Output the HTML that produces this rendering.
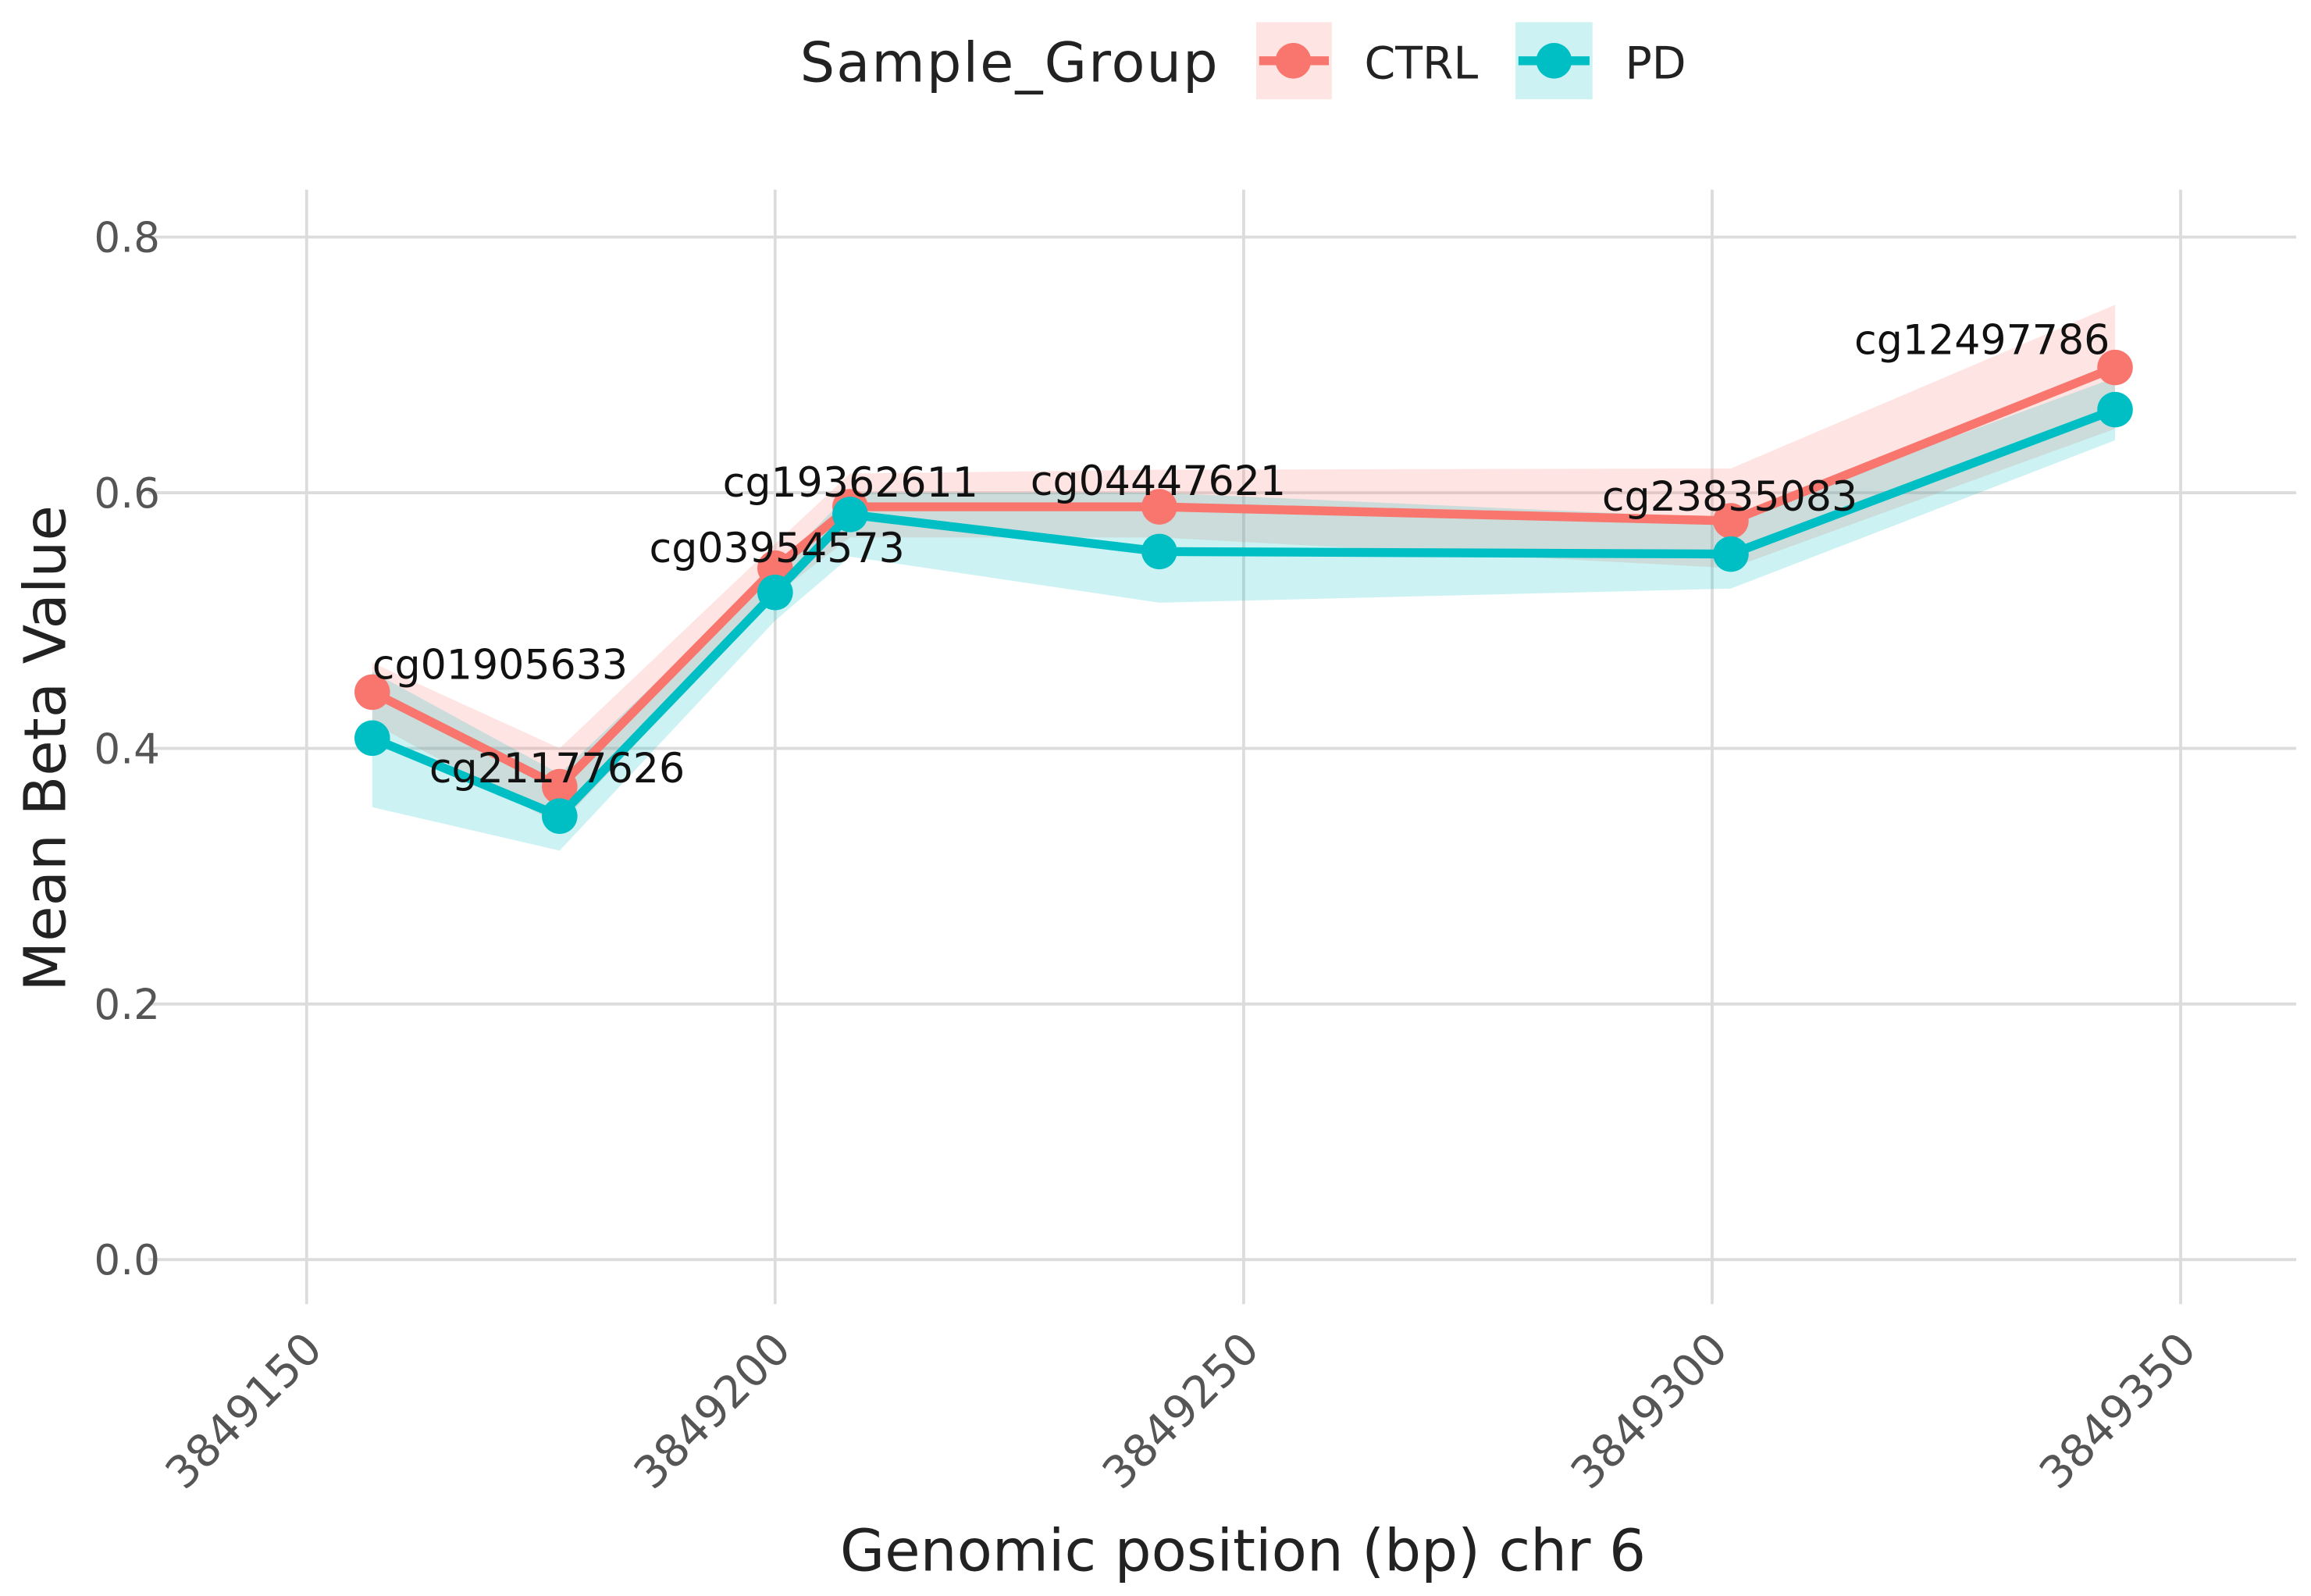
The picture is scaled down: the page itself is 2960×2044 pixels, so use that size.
<!DOCTYPE html>
<html><head><meta charset="utf-8"><style>
html,body{margin:0;padding:0;background:#fff}
svg{display:block}
text{font-family:"DejaVu Sans","Liberation Sans",sans-serif}
</style></head><body>
<svg id="chart" width="2960" height="2044" viewBox="0 0 1560 1077" preserveAspectRatio="none" xmlns="http://www.w3.org/2000/svg">
<g id="grid"></g>
<g id="ribbons"></g>
<g id="lines"></g>
<g id="labels"></g>
<g id="axes"></g>
<g>
<text x="540" y="55" font-size="37" textLength="282" fill="#222">Sample_Group</text>
<g>
<rect x="848" y="15" width="51" height="52" fill="#F8766D" fill-opacity="0.2"/>
<line x1="850" y1="41" x2="897" y2="41" stroke="#F8766D" stroke-width="6"/>
<circle cx="873" cy="41" r="12" fill="#F8766D"/>
<text x="921" y="53" font-size="30" fill="#222">CTRL</text></g>
<g>
<rect x="1023" y="15" width="52" height="52" fill="#00BFC4" fill-opacity="0.2"/>
<line x1="1025" y1="41" x2="1073" y2="41" stroke="#00BFC4" stroke-width="6"/>
<circle cx="1049" cy="41" r="12" fill="#00BFC4"/>
<text x="1097" y="53" font-size="30" fill="#222">PD</text></g>
</g>
<text x="839" y="1060" font-size="39" text-anchor="middle" fill="#222">Genomic position (bp) chr 6</text>
<text transform="translate(44,505) rotate(-90)" font-size="39" text-anchor="middle" fill="#222">Mean Beta Value</text>
</svg>
<script>
const positions=[3849157,3849177,3849200,3849208,3849241,3849302,3849343];
const probes=["cg01905633","cg21177626","cg03954573","cg19362611","cg04447621","cg23835083","cg12497786"];
const ctrlMean=[0.444,0.370,0.541,0.589,0.589,0.578,0.698];
const ctrlUpper=[0.467,0.400,0.560,0.615,0.618,0.619,0.747];
const ctrlLower=[0.420,0.340,0.520,0.565,0.565,0.541,0.650];
const pdMean=[0.408,0.347,0.522,0.583,0.554,0.552,0.665];
const pdUpper=[0.460,0.380,0.540,0.600,0.600,0.580,0.690];
const pdLower=[0.354,0.320,0.500,0.550,0.514,0.525,0.641];
const xTicks=[3849150,3849200,3849250,3849300,3849350];
const yTicks=[0,0.2,0.4,0.6,0.8];
const NS="http://www.w3.org/2000/svg";
const X=v=>207+(v-3849150)*(1472-207)/200;
const Y=v=>850-v*862.5;
function mk(tag,parent,attrs){const e=document.createElementNS(NS,tag);for(const k in attrs)e.setAttribute(k,attrs[k]);document.getElementById(parent).appendChild(e);return e;}
yTicks.forEach(t=>{
 const l=mk('line','grid',{x1:100,x2:1550,y1:Y(t),y2:Y(t),stroke:'#dcdcdc','stroke-width':2});
 
 
 const tx=mk('text','axes',{x:108,y:Y(t)+10,'font-size':28,'text-anchor':'end',fill:'#555'});
 tx.textContent=t.toFixed(1);
 
 
});
xTicks.forEach(t=>{
 const l=mk('line','grid',{x1:X(t),x2:X(t),y1:128,y2:880,stroke:'#dcdcdc','stroke-width':2});
 
 
 const tx=mk('text','axes',{transform:`translate(${X(t)+12},${912}) rotate(-45)`,'font-size':30,'text-anchor':'end',fill:'#555'});
 tx.textContent=t;
 
 
});
function ribbon(up,lo,col,name){
 let pts=positions.map((p,i)=>X(p)+','+Y(up[i]));
 for(let i=positions.length-1;i>=0;i--)pts.push(X(positions[i])+','+Y(lo[i]));
 const r=mk('polygon','ribbons',{points:pts.join(' '),fill:col,'fill-opacity':0.2});
 
 
}
ribbon(ctrlUpper,ctrlLower,'#F8766D','ctrl-ribbon');
ribbon(pdUpper,pdLower,'#00BFC4','pd-ribbon');
function series(m,col,name){
 const l=mk('polyline','lines',{points:positions.map((p,i)=>X(p)+','+Y(m[i])).join(' '),fill:'none',stroke:col,'stroke-width':6,'stroke-linejoin':'round'});
 
 
 positions.forEach((p,i)=>{
  const c=mk('circle','lines',{cx:X(p),cy:Y(m[i]),r:12,fill:col});
  
  
 });
}
series(ctrlMean,'#F8766D','ctrl');
series(pdMean,'#00BFC4','pd');
const ldx=[0,-88,-85,-86,-87,-87,-176];
const ldy=[-9,-3,-4,-7,-8,-7,-9];
probes.forEach((n,i)=>{
 const t=mk('text','labels',{x:X(positions[i])+ldx[i],y:Y(ctrlMean[i])+ldy[i],'font-size':27.5,fill:'#111'});
 t.textContent=n;
 
 
});
</script>
</body></html>
